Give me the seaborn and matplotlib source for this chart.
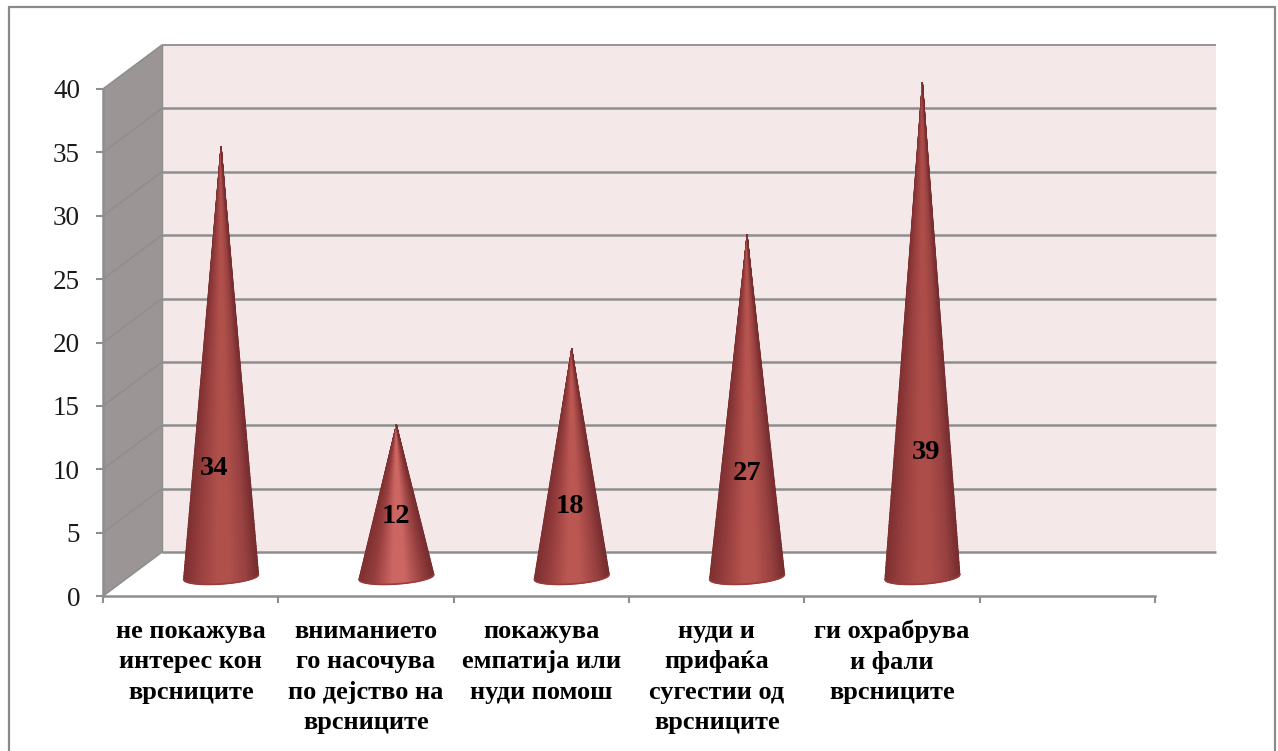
import numpy as np
import pandas as pd
import matplotlib
matplotlib.use("Agg")
import matplotlib.pyplot as plt
from matplotlib.colors import LinearSegmentedColormap
from matplotlib.lines import Line2D
from matplotlib.patches import Polygon
import seaborn as sns

categories = [
    "не покажува\nинтерес кон\nврсниците",
    "вниманието\nго насочува\nпо дејство на\nврсниците",
    "покажува\nемпатија или\nнуди помош",
    "нуди и\nприфаќа\nсугестии од\nврсниците",
    "ги охрабрува\nи фали\nврсниците",
    " ",
]
values = [34, 12, 18, 27, 39, np.nan]

# Height along the cone at which each value label sits, in axis units.
label_levels = [10.05, 6.25, 7.05, 9.65, 11.35]
label_shifts = [-0.04, 0.0, -0.01, 0.0, 0.02]
cone_highlights = ["#b0504b", "#cc6662", "#bb5752", "#b5534e", "#ad4d49"]

GRID = "#8e8e8e"
WALL = "#9b9695"
BACK = "#f4e8e8"
W, H = 1278, 751
X_PX = (1155 - 103) / 6
Y_PX = (596 - 89) / 40
DEPTH_X, DEPTH_Y = 59 / X_PX, 44 / Y_PX
FLOOR_X, FLOOR_Y = 30.4 / X_PX, 19 / Y_PX

sns.set_theme(style="white")
plt.rcParams["font.family"] = ["Liberation Serif", "DejaVu Serif"]

fig = plt.figure(figsize=(W / 100, H / 100), dpi=100, facecolor="white")
ax = fig.add_axes([103 / W, (H - 596) / H, (1155 - 103) / W, (596 - 89) / H])

frame = pd.DataFrame({"slot": np.arange(len(categories)), "value": values})
sns.barplot(data=frame, x="slot", y="value", native_scale=True, ax=ax, width=0.43, color="#a04743")
ax.set_xlim(-0.5, 5.5)
ax.set_ylim(0, 40)
ax.set_xlabel("")
ax.set_ylabel("")
ax.patch.set_alpha(0)

bars = [p for p in ax.patches if np.isfinite(p.get_height()) and p.get_height() > 0]
for bar in bars:
    bar.set_visible(False)

x0, x1 = -0.5, 5.5
# Left wall, back wall and their gridlines
ax.add_patch(Polygon([(x0, 0), (x0 + DEPTH_X, DEPTH_Y), (x0 + DEPTH_X, 40 + DEPTH_Y), (x0, 40)],
                     closed=True, fc=WALL, ec="none", clip_on=False, zorder=0.5))
ax.add_patch(Polygon([(x0 + DEPTH_X, DEPTH_Y), (x1 + DEPTH_X + 0.01, DEPTH_Y),
                      (x1 + DEPTH_X + 0.01, 40 + DEPTH_Y), (x0 + DEPTH_X, 40 + DEPTH_Y)],
                     closed=True, fc=BACK, ec="none", clip_on=False, zorder=0.5))
for level in range(0, 45, 5):
    ax.plot([x0, x0 + DEPTH_X], [level, level + DEPTH_Y], color=GRID, lw=1.2, clip_on=False, zorder=0.8,
            solid_capstyle="butt")
    ax.plot([x0 + DEPTH_X, x1 + DEPTH_X + 0.01], [level + DEPTH_Y] * 2, color=GRID,
            lw=1.3 if level == 40 else 1.8, clip_on=False, zorder=0.8, solid_capstyle="butt")
ax.plot([x0 + DEPTH_X] * 2, [DEPTH_Y, 40 + DEPTH_Y], color=GRID, lw=1.0, clip_on=False, zorder=0.8)

# Cones: a mesh that tapers from an elliptical base to the apex
shade_u = np.array([-1.0, -0.6, -0.12, 0.25, 0.7, 1.0])
u = np.linspace(-1, 1, 81)
v = np.linspace(0, 1, 120)
half_width = 37.5 / X_PX
half_height = 7.0 / Y_PX
tilt = 2.5 / Y_PX
for bar, value, level, shift, light in zip(bars, values, label_levels, label_shifts, cone_highlights):
    xc = bar.get_x() + bar.get_width() / 2 + FLOOR_X
    base = FLOOR_Y
    apex = base + bar.get_height()
    edge_y = base - half_height * np.sqrt(np.clip(1 - u ** 2, 0, 1)) + tilt * u
    X = xc + np.outer(1 - v, u * half_width)
    Y = np.outer(1 - v, edge_y) + np.outer(v, np.full_like(u, apex))
    cmap = LinearSegmentedColormap.from_list(
        "cone", list(zip((shade_u + 1) / 2, ["#7e3031", "#983f3f", light, light, "#974140", "#772d2f"])))
    C = np.tile(u, (len(v), 1))
    ax.pcolormesh(X, Y, C, cmap=cmap, vmin=-1, vmax=1, shading="gouraud", clip_on=False, zorder=3)
    ax.plot(xc + u * half_width, edge_y, color="#9c3b3c", lw=1.2, clip_on=False, zorder=3.1)
    ax.text(xc + shift, level, f"{value}", ha="center", va="center",
            fontsize=20.5, fontweight="bold", color="black", zorder=4)

# Axis lines and ticks
sns.despine(ax=ax, top=True, right=True)
for side in ("left", "bottom"):
    ax.spines[side].set_color(GRID)
    ax.spines[side].set_linewidth(1.8)
    ax.spines[side].set_zorder(2)
ax.set_yticks(range(0, 45, 5))
ax.tick_params(axis="y", which="major", left=True, length=5, width=1.5, color=GRID, pad=11.5,
               labelsize=19.5, labelcolor="#1a1a1a")
ax.set_xticks(np.arange(-0.5, 6, 1), labels=[""] * 7)
ax.set_xticks(np.arange(6), labels=categories, minor=True)
ax.tick_params(axis="x", which="major", bottom=True, length=5, width=1.5, color=GRID)
ax.tick_params(axis="x", which="minor", bottom=False, length=0, pad=17)
for label in ax.get_xticklabels(minor=True):
    label.set_fontsize(19)
    label.set_fontweight("bold")
    label.set_color("black")
    label.set_linespacing(1.42)
    label.set_ha("center")

# Chart frame, open at the lower edge
for xs, ys in ([(8.5, 8.5), (0, H - 7)], [(8.5, W - 3), (H - 7, H - 7)], [(W - 3, W - 3), (0, H - 7)]):
    fig.add_artist(Line2D(np.array(xs) / W, np.array(ys) / H, color="#8a8a8a", lw=1.6))

fig.savefig("out.png", dpi=100)
